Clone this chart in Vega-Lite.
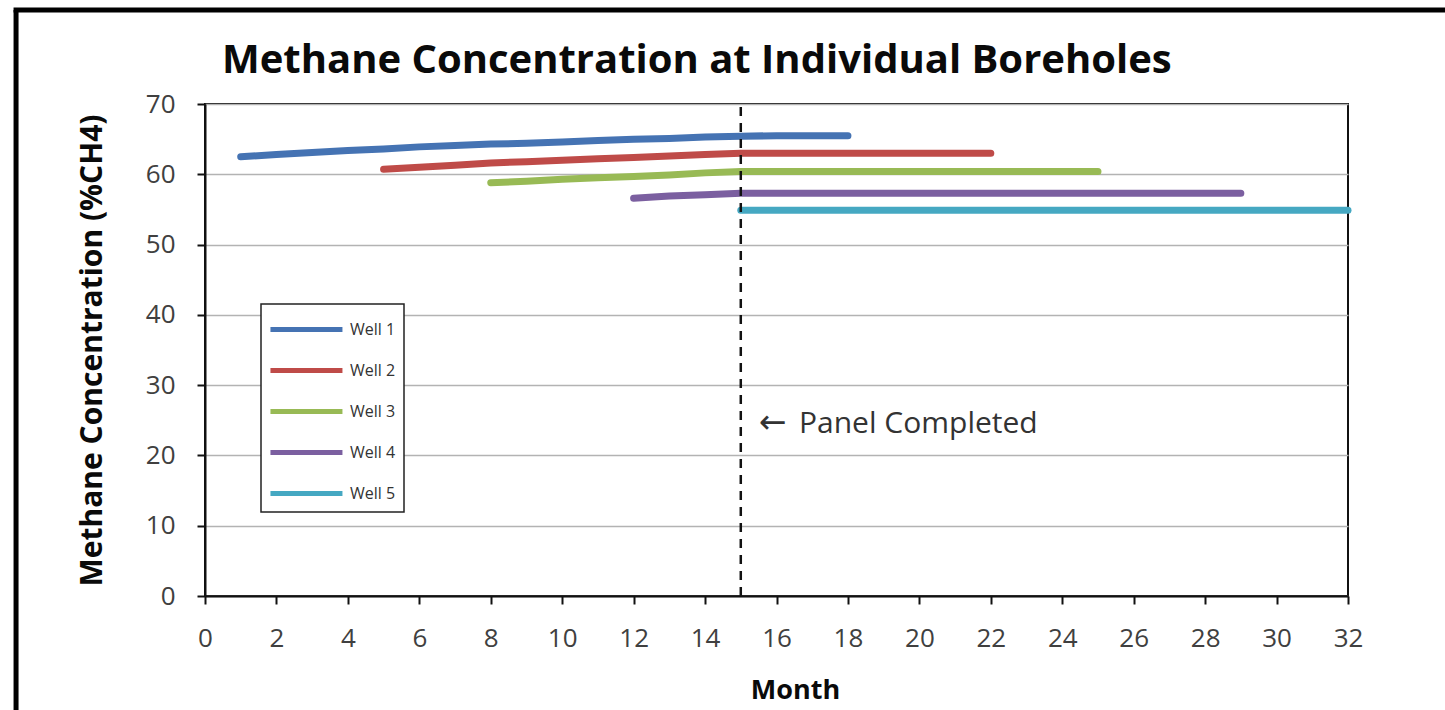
{
  "$schema": "https://vega.github.io/schema/vega-lite/v6.json",
  "width": 1143,
  "height": 492,
  "autosize": {"type": "none"},
  "padding": {"left": 205, "top": 104, "right": 97, "bottom": 114},
  "background": "white",
  "title": {
    "text": "Methane Concentration at Individual Boreholes",
    "anchor": "start",
    "frame": "group",
    "dx": 17,
    "offset": 0,
    "dy": 105,
    "baseline": "alphabetic",
    "font": "Open Sans",
    "fontSize": 40,
    "fontWeight": "bold",
    "color": "#0a0a0a"
  },
  "config": {
    "view": {"stroke": "#111111", "strokeWidth": 2},
    "font": "Open Sans"
  },
  "datasets": {
    "wells": [
      {"well": "Well 1", "month": 1, "ch4": 62.5},
      {"well": "Well 1", "month": 2, "ch4": 62.8},
      {"well": "Well 1", "month": 3, "ch4": 63.1},
      {"well": "Well 1", "month": 4, "ch4": 63.4},
      {"well": "Well 1", "month": 5, "ch4": 63.6},
      {"well": "Well 1", "month": 6, "ch4": 63.9},
      {"well": "Well 1", "month": 7, "ch4": 64.1},
      {"well": "Well 1", "month": 8, "ch4": 64.3},
      {"well": "Well 1", "month": 9, "ch4": 64.4},
      {"well": "Well 1", "month": 10, "ch4": 64.6},
      {"well": "Well 1", "month": 11, "ch4": 64.8},
      {"well": "Well 1", "month": 12, "ch4": 65.0},
      {"well": "Well 1", "month": 13, "ch4": 65.1},
      {"well": "Well 1", "month": 14, "ch4": 65.3},
      {"well": "Well 1", "month": 15, "ch4": 65.4},
      {"well": "Well 1", "month": 16, "ch4": 65.5},
      {"well": "Well 1", "month": 17, "ch4": 65.5},
      {"well": "Well 1", "month": 18, "ch4": 65.5},
      {"well": "Well 2", "month": 5, "ch4": 60.7},
      {"well": "Well 2", "month": 6, "ch4": 61.0},
      {"well": "Well 2", "month": 7, "ch4": 61.3},
      {"well": "Well 2", "month": 8, "ch4": 61.6},
      {"well": "Well 2", "month": 9, "ch4": 61.8},
      {"well": "Well 2", "month": 10, "ch4": 62.0},
      {"well": "Well 2", "month": 11, "ch4": 62.2},
      {"well": "Well 2", "month": 12, "ch4": 62.4},
      {"well": "Well 2", "month": 13, "ch4": 62.6},
      {"well": "Well 2", "month": 14, "ch4": 62.8},
      {"well": "Well 2", "month": 15, "ch4": 63.0},
      {"well": "Well 2", "month": 16, "ch4": 63.0},
      {"well": "Well 2", "month": 17, "ch4": 63.0},
      {"well": "Well 2", "month": 18, "ch4": 63.0},
      {"well": "Well 2", "month": 19, "ch4": 63.0},
      {"well": "Well 2", "month": 20, "ch4": 63.0},
      {"well": "Well 2", "month": 21, "ch4": 63.0},
      {"well": "Well 2", "month": 22, "ch4": 63.0},
      {"well": "Well 3", "month": 8, "ch4": 58.8},
      {"well": "Well 3", "month": 9, "ch4": 59.0},
      {"well": "Well 3", "month": 10, "ch4": 59.3},
      {"well": "Well 3", "month": 11, "ch4": 59.5},
      {"well": "Well 3", "month": 12, "ch4": 59.7},
      {"well": "Well 3", "month": 13, "ch4": 59.9},
      {"well": "Well 3", "month": 14, "ch4": 60.2},
      {"well": "Well 3", "month": 15, "ch4": 60.4},
      {"well": "Well 3", "month": 16, "ch4": 60.4},
      {"well": "Well 3", "month": 17, "ch4": 60.4},
      {"well": "Well 3", "month": 18, "ch4": 60.4},
      {"well": "Well 3", "month": 19, "ch4": 60.4},
      {"well": "Well 3", "month": 20, "ch4": 60.4},
      {"well": "Well 3", "month": 21, "ch4": 60.4},
      {"well": "Well 3", "month": 22, "ch4": 60.4},
      {"well": "Well 3", "month": 23, "ch4": 60.4},
      {"well": "Well 3", "month": 24, "ch4": 60.4},
      {"well": "Well 3", "month": 25, "ch4": 60.4},
      {"well": "Well 4", "month": 12, "ch4": 56.6},
      {"well": "Well 4", "month": 13, "ch4": 56.9},
      {"well": "Well 4", "month": 14, "ch4": 57.1},
      {"well": "Well 4", "month": 15, "ch4": 57.3},
      {"well": "Well 4", "month": 16, "ch4": 57.3},
      {"well": "Well 4", "month": 17, "ch4": 57.3},
      {"well": "Well 4", "month": 18, "ch4": 57.3},
      {"well": "Well 4", "month": 19, "ch4": 57.3},
      {"well": "Well 4", "month": 20, "ch4": 57.3},
      {"well": "Well 4", "month": 21, "ch4": 57.3},
      {"well": "Well 4", "month": 22, "ch4": 57.3},
      {"well": "Well 4", "month": 23, "ch4": 57.3},
      {"well": "Well 4", "month": 24, "ch4": 57.3},
      {"well": "Well 4", "month": 25, "ch4": 57.3},
      {"well": "Well 4", "month": 26, "ch4": 57.3},
      {"well": "Well 4", "month": 27, "ch4": 57.3},
      {"well": "Well 4", "month": 28, "ch4": 57.3},
      {"well": "Well 4", "month": 29, "ch4": 57.3},
      {"well": "Well 5", "month": 15, "ch4": 54.9},
      {"well": "Well 5", "month": 16, "ch4": 54.9},
      {"well": "Well 5", "month": 17, "ch4": 54.9},
      {"well": "Well 5", "month": 18, "ch4": 54.9},
      {"well": "Well 5", "month": 19, "ch4": 54.9},
      {"well": "Well 5", "month": 20, "ch4": 54.9},
      {"well": "Well 5", "month": 21, "ch4": 54.9},
      {"well": "Well 5", "month": 22, "ch4": 54.9},
      {"well": "Well 5", "month": 23, "ch4": 54.9},
      {"well": "Well 5", "month": 24, "ch4": 54.9},
      {"well": "Well 5", "month": 25, "ch4": 54.9},
      {"well": "Well 5", "month": 26, "ch4": 54.9},
      {"well": "Well 5", "month": 27, "ch4": 54.9},
      {"well": "Well 5", "month": 28, "ch4": 54.9},
      {"well": "Well 5", "month": 29, "ch4": 54.9},
      {"well": "Well 5", "month": 30, "ch4": 54.9},
      {"well": "Well 5", "month": 31, "ch4": 54.9},
      {"well": "Well 5", "month": 32, "ch4": 54.9}
    ]
  },
  "layer": [
    {
      "data": {"name": "wells"},
      "mark": {"type": "line", "strokeWidth": 7, "strokeCap": "round", "strokeJoin": "round", "clip": false},
      "encoding": {
        "x": {
          "field": "month",
          "type": "quantitative",
          "scale": {"domain": [0, 32], "nice": false, "zero": false},
          "axis": {
            "title": "Month",
            "values": [0, 2, 4, 6, 8, 10, 12, 14, 16, 18, 20, 22, 24, 26, 28, 30, 32],
            "grid": false,
            "domainColor": "#111111",
            "domainWidth": 2,
            "tickColor": "#111111",
            "tickWidth": 2,
            "tickSize": 8,
            "labelFont": "Open Sans",
            "labelFontSize": 26,
            "labelColor": "#404040",
            "labelPadding": 21,
            "labelFlush": false,
            "titleFont": "Open Sans",
            "titleFontSize": 27,
            "titleFontWeight": "bold",
            "titleColor": "#0a0a0a",
            "titleX": 590,
            "titleY": 94,
            "titleAlign": "center",
            "titleBaseline": "middle"
          }
        },
        "y": {
          "field": "ch4",
          "type": "quantitative",
          "scale": {"domain": [0, 70], "nice": false},
          "axis": {
            "title": "Methane Concentration (%CH4)",
            "values": [0, 10, 20, 30, 40, 50, 60, 70],
            "grid": true,
            "gridColor": "#b3b3b3",
            "gridWidth": 1.5,
            "domainColor": "#111111",
            "domainWidth": 2,
            "tickColor": "#111111",
            "tickWidth": 2,
            "tickSize": 8,
            "labelFont": "Open Sans",
            "labelFontSize": 26,
            "labelColor": "#404040",
            "labelPadding": 22,
            "titleFont": "Open Sans",
            "titleFontSize": 30,
            "titleFontWeight": "bold",
            "titleColor": "#0a0a0a",
            "titleAngle": -90,
            "titleX": -113,
            "titleY": 246,
            "titleAlign": "center",
            "titleBaseline": "middle"
          }
        },
        "color": {
          "field": "well",
          "type": "nominal",
          "scale": {
            "domain": ["Well 1", "Well 2", "Well 3", "Well 4", "Well 5"],
            "range": ["#4573b3", "#bf4b48", "#98ba55", "#7b5fa0", "#45a8c2"]
          },
          "legend": {
            "title": null,
            "orient": "none",
            "legendX": 56,
            "legendY": 200,
            "padding": 8,
            "strokeColor": "#222222",
            "fillColor": "white",
            "symbolType": "M-1.07,0H3.73",
            "symbolSize": 900,
            "symbolStrokeWidth": 5,
            "rowPadding": 13,
            "labelOffset": 46,
            "labelFont": "Open Sans",
            "labelFontSize": 16,
            "labelColor": "#333333",
            "encode": {"legend": {"update": {"strokeWidth": {"value": 1.5}}}}
          }
        }
      }
    },
    {
      "data": {"values": [{}]},
      "mark": {"type": "rule", "color": "#111111", "strokeWidth": 2.5, "strokeDash": [9, 7]},
      "encoding": {
        "x": {"datum": 15},
        "y": {"datum": 0},
        "y2": {"datum": 70}
      }
    },
    {
      "data": {"values": [{}]},
      "mark": {"type": "text", "align": "left", "baseline": "middle", "font": "DejaVu Sans", "fontSize": 33, "color": "#333333"},
      "encoding": {
        "x": {"datum": 15.5},
        "y": {"datum": 24.6},
        "text": {"value": "←"}
      }
    },
    {
      "data": {"values": [{}]},
      "mark": {"type": "text", "align": "left", "baseline": "middle", "font": "Open Sans", "fontSize": 30, "color": "#333333"},
      "encoding": {
        "x": {"datum": 16.63},
        "y": {"datum": 24.5},
        "text": {"value": "Panel Completed"}
      }
    },
    {
      "data": {"values": [{}]},
      "mark": {"type": "rule", "color": "#000000", "strokeWidth": 5, "clip": false},
      "encoding": {
        "x": {"datum": -5.29},
        "y": {"datum": -16.5},
        "y2": {"datum": 83.37}
      }
    },
    {
      "data": {"values": [{}]},
      "mark": {"type": "rule", "color": "#000000", "strokeWidth": 5, "clip": false},
      "encoding": {
        "x": {"datum": -5.36},
        "x2": {"datum": 35},
        "y": {"datum": 83.37}
      }
    }
  ]
}
